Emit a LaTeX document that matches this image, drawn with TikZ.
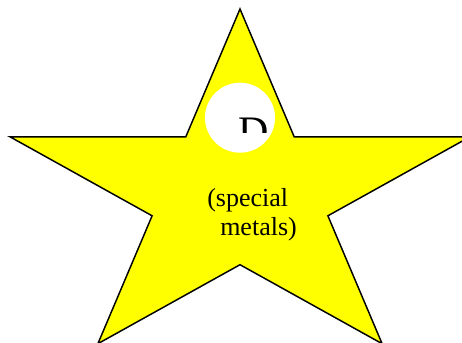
\documentclass[tikz,border=0pt]{standalone}
\usepackage{fontspec}
\setmainfont{Liberation Serif}
\usetikzlibrary{positioning}
\definecolor{starYellow}{RGB}{255,255,0}
\tikzset{
  starshape/.style={draw=black, fill=starYellow, line width=1.1pt, line join=miter},
  hole/.style={fill=white, draw=none}}

\begin{document}
\begin{tikzpicture}[x=0.75pt, y=-0.75pt,
		captiontext/.style={
			inner sep=0pt,
			align=left,
			anchor=base west,
			font=\fontsize{19.5}{21.75}\selectfont
		},
		bigletter/.style={
			inner sep=0pt,
			anchor=base west,
			font=\fontsize{31.5}{31.5}\selectfont
		}
		]
		\useasboundingbox (0,0) rectangle (462,343);
		
		% the star
		\draw[starshape] (240,9) -- (294.2,136.8) -- (470,136.8) -- (327.9,215.8)
			-- (382.1,343.7) -- (240,264.7) -- (97.9,343.7) -- (152.1,215.8)
			-- (10,136.8) -- (185.8,136.8) -- cycle;
		
		% white disc with the clipped letter
		\node[hole, circle, minimum size=70*0.75pt, inner sep=0pt] (disc) at (240,117.7) {};
		\begin{scope}
			\clip (228,116) rectangle (280,132);
			\node[bigletter] (letter) at (238,145) {D};
		\end{scope}
		
		\node[captiontext] (caption) at (207,235) {(special\\\hspace{9.75pt}metals)};
		
	\end{tikzpicture}
\end{document}
